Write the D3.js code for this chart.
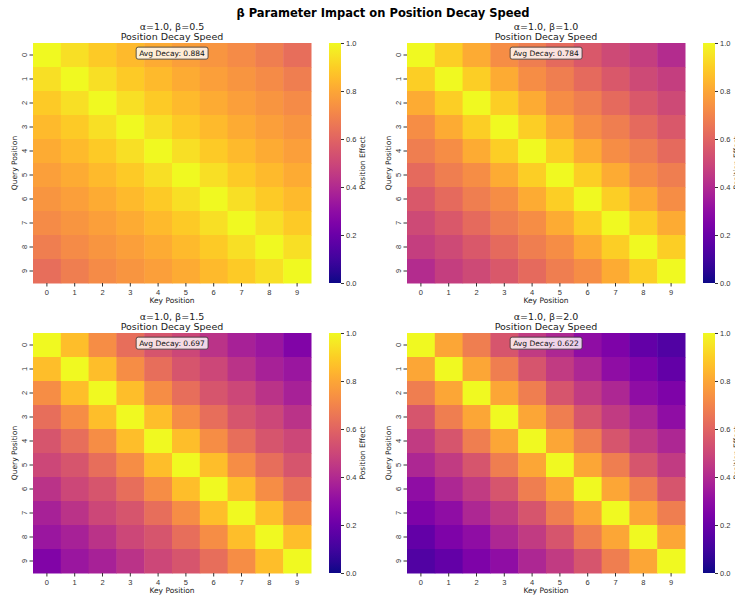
<!DOCTYPE html>
<html>
<head>
<meta charset="utf-8">
<script src="https://cdn.jsdelivr.net/npm/d3@7"></script>
<style>
  body { margin: 0; background: #fff; }
  svg { font-family: "DejaVu Sans", sans-serif; }
  .tick text { fill: #333; }
  .tick line { stroke: #333; }
</style>
</head>
<body>
<div id="chart"></div>
<script>
// values: effect vs distance |query - key| for each beta
var positions = [0, 1, 2, 3, 4, 5, 6, 7, 8, 9];
var betas = ["0.5", "1.0", "1.5", "2.0"];
var avgDecay = ["0.884", "0.784", "0.697", "0.622"];
var decayBeta05 = [1.0, 0.94, 0.89, 0.85, 0.81, 0.78, 0.75, 0.72, 0.68, 0.63];
var decayBeta10 = [1.0, 0.90, 0.81, 0.73, 0.68, 0.62, 0.56, 0.51, 0.47, 0.41];
var decayBeta15 = [1.0, 0.86, 0.73, 0.63, 0.55, 0.50, 0.43, 0.37, 0.33, 0.26];
var decayBeta20 = [1.0, 0.80, 0.68, 0.55, 0.46, 0.39, 0.30, 0.25, 0.18, 0.14];
var colorTicks = [0, 0.2, 0.4, 0.6, 0.8, 1.0];

var decays = [decayBeta05, decayBeta10, decayBeta15, decayBeta20];

var svgWidth = 735;
var svgHeight = 598;

var svg = d3.select("#chart")
    .append("svg")
    .attr("width", svgWidth)
    .attr("height", svgHeight);

// gradient for the colorbars
var grad = svg.append("defs").append("linearGradient")
    .attr("id", "plasma")
    .attr("x1", 0).attr("y1", 1).attr("x2", 0).attr("y2", 0);
d3.range(0, 1.001, 0.05).forEach(function(t) {
    grad.append("stop")
        .attr("offset", t)
        .attr("stop-color", d3.interpolatePlasma(t));
});

svg.append("text")
    .attr("x", 383)
    .attr("y", 17)
    .attr("text-anchor", "middle")
    .attr("font-size", "11.5px")
    .attr("font-weight", "bold")
    .text("β Parameter Impact on Position Decay Speed");

var color = d3.scaleSequential(d3.interpolatePlasma).domain([0, 1]);

// panel boxes (left, top of heatmap)
var panels = [
    {x: 33, y: 43},
    {x: 407, y: 43},
    {x: 33, y: 333},
    {x: 407, y: 333}
];
var hmW = 278, hmH = 240;

panels.forEach(function(p, k) {
    var g = svg.append("g").attr("transform", `translate(${p.x},${p.y})`);
    var decay = decays[k];

    var x = d3.scaleBand().domain(positions).range([0, hmW]);
    var y = d3.scaleBand().domain(positions).range([0, hmH]);

    var cells = [];
    positions.forEach(function(i) {
        positions.forEach(function(j) {
            cells.push({q: i, k: j, v: decay[Math.abs(i - j)]});
        });
    });

    g.selectAll("rect.cell")
        .data(cells)
        .enter()
        .append("rect")
        .attr("class", "cell")
        .attr("x", d => x(d.k))
        .attr("y", d => y(d.q))
        .attr("width", x.bandwidth() + 0.5)
        .attr("height", y.bandwidth() + 0.5)
        .attr("fill", d => color(d.v));

    // axes
    var xAxis = g.append("g")
        .attr("transform", `translate(0,${hmH})`)
        .call(d3.axisBottom(x).tickSize(3.5).tickPadding(3));
    xAxis.select(".domain").remove();
    xAxis.selectAll("text").attr("font-size", "7.5px");

    var yAxis = g.append("g")
        .call(d3.axisLeft(y).tickSize(3.5).tickPadding(3));
    yAxis.select(".domain").remove();
    yAxis.selectAll("text")
        .attr("font-size", "7.5px")
        .attr("transform", "rotate(-90)")
        .attr("x", 0)
        .attr("y", -9)
        .attr("dy", "0.35em")
        .attr("text-anchor", "middle");

    g.append("text")
        .attr("x", hmW / 2)
        .attr("y", hmH + 20)
        .attr("text-anchor", "middle")
        .attr("font-size", "7.5px")
        .attr("fill", "#222")
        .text("Key Position");

    g.append("text")
        .attr("transform", `translate(-16,${hmH / 2}) rotate(-90)`)
        .attr("text-anchor", "middle")
        .attr("font-size", "7.5px")
        .attr("fill", "#222")
        .text("Query Position");

    // subplot title
    g.append("text")
        .attr("x", hmW / 2)
        .attr("y", -13)
        .attr("text-anchor", "middle")
        .attr("font-size", "9.5px")
        .attr("fill", "#222")
        .text(`α=1.0, β=${betas[k]}`);
    g.append("text")
        .attr("x", hmW / 2)
        .attr("y", -3)
        .attr("text-anchor", "middle")
        .attr("font-size", "9.5px")
        .attr("fill", "#222")
        .text("Position Decay Speed");

    // avg decay box
    var label = g.append("g").attr("transform", `translate(${hmW / 2},10)`);
    var txt = label.append("text")
        .attr("text-anchor", "middle")
        .attr("dy", "0.35em")
        .attr("font-size", "7.5px")
        .attr("fill", "#111")
        .text(`Avg Decay: ${avgDecay[k]}`);
    var bb = txt.node().getBBox();
    label.insert("rect", "text")
        .attr("x", bb.x - 3)
        .attr("y", bb.y - 1.5)
        .attr("width", bb.width + 6)
        .attr("height", bb.height + 3)
        .attr("rx", 2)
        .attr("fill", "white")
        .attr("fill-opacity", 0.8)
        .attr("stroke", "#333")
        .attr("stroke-width", 0.8);

    // colorbar
    var cb = g.append("g").attr("transform", `translate(${hmW + 18},0)`);
    cb.append("rect")
        .attr("width", 12)
        .attr("height", hmH)
        .attr("fill", "url(#plasma)");
    var cScale = d3.scaleLinear().domain([0, 1]).range([hmH, 0]);
    var cAxis = cb.append("g")
        .attr("transform", "translate(12,0)")
        .call(d3.axisRight(cScale).tickValues(colorTicks).tickFormat(d3.format(".1f")).tickSize(3).tickPadding(2));
    cAxis.select(".domain").remove();
    cAxis.selectAll("text").attr("font-size", "7.5px");
    // the right-hand labels run off the page edge, as in the original figure
    cb.append("text")
        .attr("transform", `translate(36,${hmH / 2}) rotate(-90)`)
        .attr("text-anchor", "middle")
        .attr("font-size", "7.5px")
        .attr("fill", "#222")
        .text("Position Effect");
});
</script>
</body>
</html>
